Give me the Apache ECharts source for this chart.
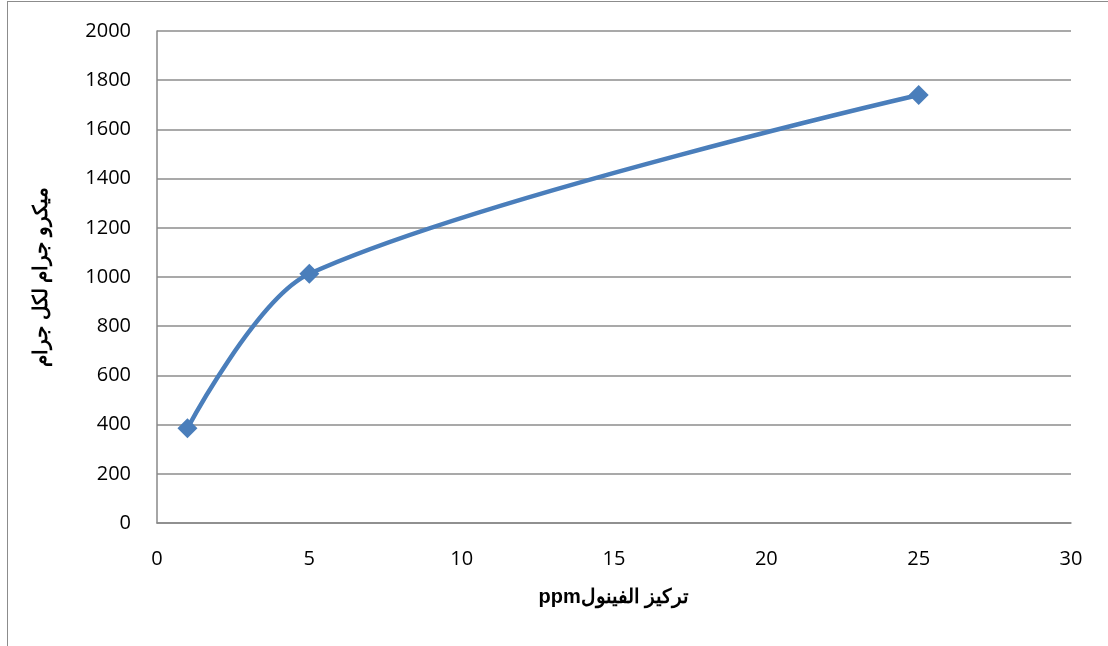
<!DOCTYPE html>
<html>
<head>
<meta charset="utf-8">
<script src="https://cdn.jsdelivr.net/npm/echarts@6/dist/echarts.min.js"></script>
<style>
  html, body { margin: 0; padding: 0; background: #fff; }
  #frame { position: absolute; left: 7px; top: 1px; width: 1200px; height: 700px;
           border-left: 1.5px solid #8c8c8c; border-top: 1.5px solid #8c8c8c; }
  #chart { position: absolute; left: 0; top: 0; width: 1108px; height: 646px; }
</style>
</head>
<body>
<div id="frame"></div>
<div id="chart"></div>
<script>
// phenol concentration (ppm) vs adsorbed amount
const concentration = [1, 5, 25];
const adsorbed = [385, 1013, 1740];

// right-to-left embedding so "ppm" sits on the left like the original
const xTitle = "\u202Bتركيز الفينولppm\u202C";
const yTitle = "ميكرو جرام لكل جرام";

const chart = echarts.init(document.getElementById("chart"));

const points = concentration.map((x, i) => [x, adsorbed[i]]);
const plain = (v) => String(v);

chart.setOption({
  animation: false,
  grid: { left: 157, top: 31, right: 37, bottom: 123 },
  xAxis: {
    type: "value",
    min: 0,
    max: 30,
    interval: 5,
    name: xTitle,
    nameLocation: "middle",
    nameGap: 64,
    nameTextStyle: { fontFamily: "Liberation Sans", fontWeight: "bold", fontSize: 20, color: "#000" },
    axisLine: { show: true, lineStyle: { color: "#888", width: 1.5 } },
    axisTick: { show: false },
    axisLabel: { margin: 26, fontFamily: "Open Sans", fontSize: 20, color: "#000", formatter: plain },
    splitLine: { show: false }
  },
  yAxis: {
    type: "value",
    min: 0,
    max: 2000,
    interval: 200,
    name: yTitle,
    nameLocation: "middle",
    nameRotate: 90,
    nameGap: 106,
    nameTextStyle: { fontFamily: "Liberation Sans", fontWeight: "bold", fontSize: 20, color: "#000" },
    axisLine: { show: true, lineStyle: { color: "#888", width: 1.5 } },
    axisTick: { show: false },
    axisLabel: { margin: 26, fontFamily: "Open Sans", fontSize: 20, color: "#000", formatter: plain },
    splitLine: { show: true, lineStyle: { color: "#8c8c8c", width: 1.5 } }
  },
  series: [
    {
      type: "line",
      data: points,
      smooth: 0.3,
      symbol: "diamond",
      symbolSize: 20,
      lineStyle: { color: "#4a7ebb", width: 4.5 },
      itemStyle: { color: "#4a7ebb" }
    }
  ]
});
</script>
</body>
</html>
